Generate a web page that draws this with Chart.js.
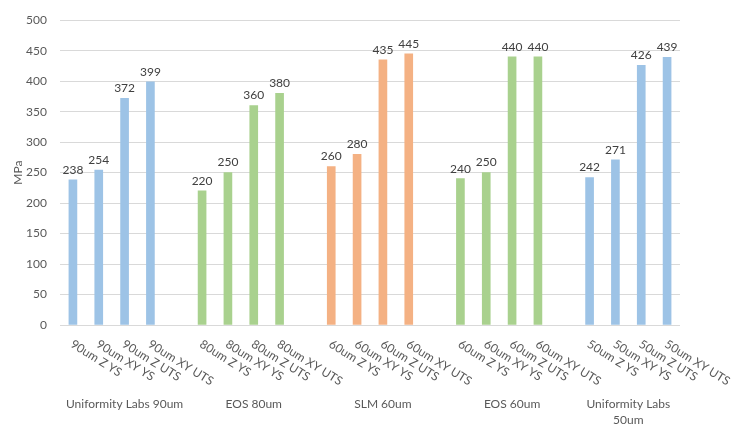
<!DOCTYPE html>
<html>
<head>
<meta charset="utf-8">
<script src="https://cdn.jsdelivr.net/npm/chart.js@4/dist/chart.umd.min.js"></script>
<style>
  html, body { margin: 0; padding: 0; background: #fff; }
  #wrap { width: 736px; height: 428px; }
</style>
</head>
<body>
<div id="wrap"><canvas id="chart"></canvas></div>
<script>
const groups = [["Uniformity Labs 90um"], ["EOS 80um"], ["SLM 60um"], ["EOS 60um"], ["Uniformity Labs", "50um"]];
const layers = ["90um", "80um", "60um", "60um", "50um"];
const tests = ["Z YS", "XY YS", "Z UTS", "XY UTS"];
const values = [
    [238, 254, 372, 399],
    [220, 250, 360, 380],
    [260, 280, 435, 445],
    [240, 250, 440, 440],
    [242, 271, 426, 439]
];
const yTicks = [0, 50, 100, 150, 200, 250, 300, 350, 400, 450, 500];

const groupColors = ["#9DC3E6", "#A9D18E", "#F4B183", "#A9D18E", "#9DC3E6"];
const FONT = "Lato, 'Open Sans', sans-serif";
const TEXT = "#595959";

// one slot per bar plus an empty slot between groups
const labels = [];
const data = [];
const colors = [];
const groupSpans = [];
values.forEach((vals, g) => {
    const first = labels.length;
    vals.forEach((v, i) => {
        labels.push(`${layers[g]} ${tests[i]}`);
        data.push(v);
        colors.push(groupColors[g]);
    });
    if (g < values.length - 1) {
        labels.push("");
        data.push(null);
        colors.push("transparent");
    }
    groupSpans.push([first, labels.length - 1]);
});

const labelPlugin = {
    id: "labelPlugin",
    afterDraw(chart) {
        const ctx = chart.ctx;
        const x = chart.scales.x;
        const meta = chart.getDatasetMeta(0);
        ctx.save();
        ctx.font = `12px ${FONT}`;
        ctx.fillStyle = "#404040";
        ctx.textAlign = "center";
        ctx.textBaseline = "bottom";
        meta.data.forEach((bar, i) => {
            if (data[i] == null) return;
            ctx.fillText(String(data[i]), bar.x, bar.y - 4);
        });

        ctx.fillStyle = TEXT;
        ctx.textAlign = "left";
        ctx.textBaseline = "top";
        labels.forEach((lab, i) => {
            if (!lab) return;
            const px = x.getPixelForValue(i);
            ctx.save();
            ctx.translate(px + 2, x.top + 13);
            ctx.rotate(32 * Math.PI / 180);
            ctx.fillText(lab, 0, 0);
            ctx.restore();
        });

        ctx.textAlign = "center";
        ctx.textBaseline = "middle";
        groups.forEach((lines, g) => {
            const [a, b] = groupSpans[g];
            const cx = (x.getPixelForValue(a) + x.getPixelForValue(b)) / 2;
            lines.forEach((line, k) => {
                ctx.fillText(line, cx, x.top + 79 + k * 16);
            });
        });
        ctx.restore();
    }
};

new Chart(document.getElementById("chart"), {
    type: "bar",
    data: {
        labels: labels,
        datasets: [{
            data: data,
            backgroundColor: colors,
            barThickness: 8
        }]
    },
    options: {
        responsive: true,
        maintainAspectRatio: false,
        animation: false,
        layout: {padding: {left: 0, right: 56, top: 11, bottom: 0}},
        plugins: {legend: {display: false}, tooltip: {enabled: false}},
        scales: {
            x: {
                grid: {display: false},
                border: {display: false},
                ticks: {display: false},
                afterFit: s => { s.height = 103; }
            },
            y: {
                min: 0,
                max: 500,
                afterBuildTicks: s => { s.ticks = yTicks.map(v => ({value: v})); },
                afterFit: s => { s.width = 60; },
                grid: {color: "#d9d9d9", drawTicks: false},
                border: {display: false},
                ticks: {padding: 13, color: TEXT, font: {family: FONT, size: 12}},
                title: {
                    display: true,
                    text: "MPa",
                    color: TEXT,
                    font: {family: FONT, size: 12},
                    padding: {top: 11}
                }
            }
        }
    },
    plugins: [labelPlugin]
});
</script>
</body>
</html>
